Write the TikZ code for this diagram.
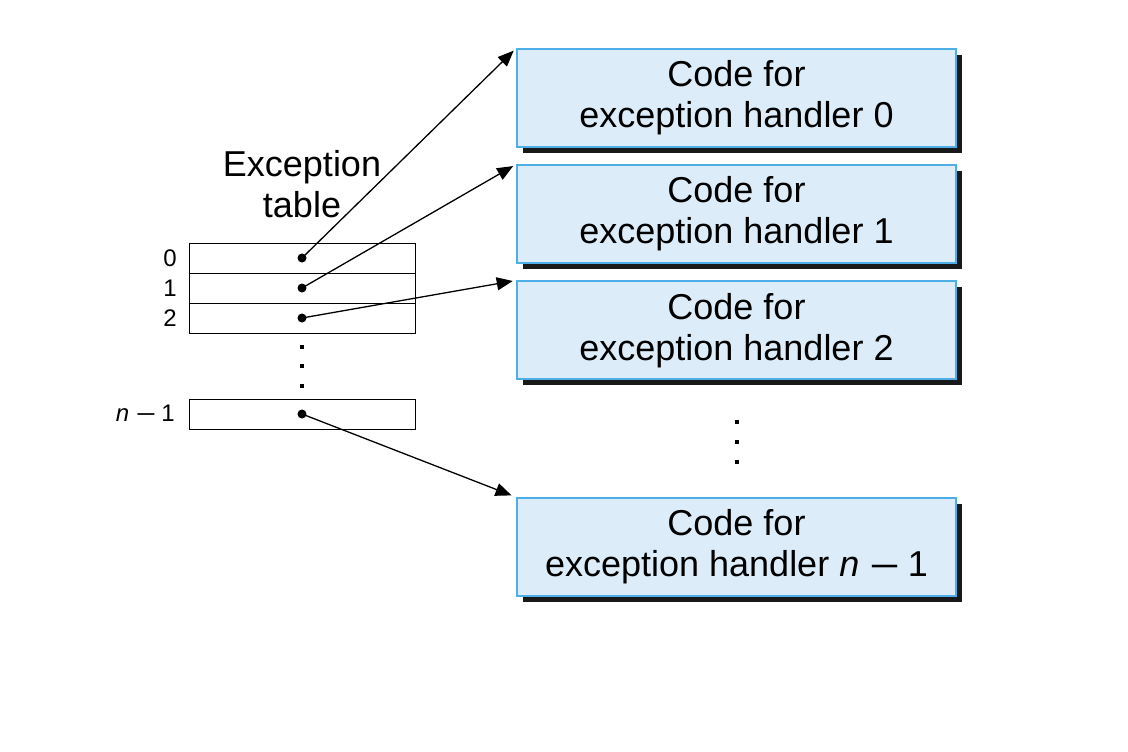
\documentclass[tikz,border=0pt]{standalone}
\usepackage{fontspec}
\setmainfont{Liberation Sans}
\usetikzlibrary{arrows.meta,positioning,shadows}
\definecolor{handlerfill}{HTML}{DCEDF9}
\definecolor{handlerline}{HTML}{4DAEE8}
\newcommand{\nminus}{\textit{n}\hspace{0.28em}\raisebox{-0.035em}{\scalebox{1.45}[1]{−}}\hspace{0.22em}1}

\begin{document}
\begin{tikzpicture}[x=1pt, y=-1pt, node distance=16pt,
	every node/.style={font=\fontsize{36}{41}\selectfont},
	handler/.style={draw=handlerline, line width=1.6pt, fill=handlerfill, minimum width=439pt, minimum height=98pt, inner sep=0pt, align=center,
		drop shadow={shadow xshift=6pt, shadow yshift=-6pt, fill=black!90, opacity=1}},
	row/.style={draw, line width=0.8pt, minimum width=226pt, minimum height=30pt, inner sep=0pt, outer sep=0pt},
	idx/.style={font=\fontsize{24}{28}\selectfont, inner sep=0pt},
	ptr/.style={-{Triangle[length=16pt, width=13pt]}, line width=1.3pt, shorten >=3.5pt}]
	\useasboundingbox (0,0) rectangle (1128,752);
	
	% handlers
	\node[handler] (h0) at (736.5,98) {Code for\\exception handler 0};
	\node[handler, below=16.5pt of h0] (h1) {Code for\\exception handler 1};
	\node[handler, below=16.5pt of h1] (h2) {Code for\\exception handler 2};
	\node[handler] (hn) at (736.5,547) {Code for\\exception handler \nminus};
	
	% exception table
	\node[row] (r0) at (302,258) {};
	\node[row, below=0pt of r0] (r1) {};
	\node[row, below=0pt of r1] (r2) {};
	\node[row] (rn) at (302,414) {};
	\node[above=25pt of r0, inner sep=0pt, align=center] (title) {Exception\\table};
	
	\node[idx, left=12pt of r0] (l0) {0};
	\node[idx, left=12pt of r1] (l1) {1};
	\node[idx, left=12pt of r2] (l2) {2};
	\node[idx, left=14pt of rn] (ln) {\nminus};
	
	\foreach \r in {r0,r1,r2,rn}
		\fill (\r.center) circle (4.5pt);
	\foreach \y in {347,366,386}
		\fill[shift={(302,\y)}] (-2,-2) rectangle (2,2);
	\foreach \y in {422,442,462}
		\fill[shift={(737,\y)}] (-2,-2) rectangle (2,2);
	
	\draw[ptr] (r0.center) -- (h0.north west);
	\draw[ptr] (r1.center) -- (h1.north west);
	\draw[ptr] (r2.center) -- (h2.north west);
	\draw[ptr, shorten >=5pt] (rn.center) -- (hn.north west);
\end{tikzpicture}
\end{document}
